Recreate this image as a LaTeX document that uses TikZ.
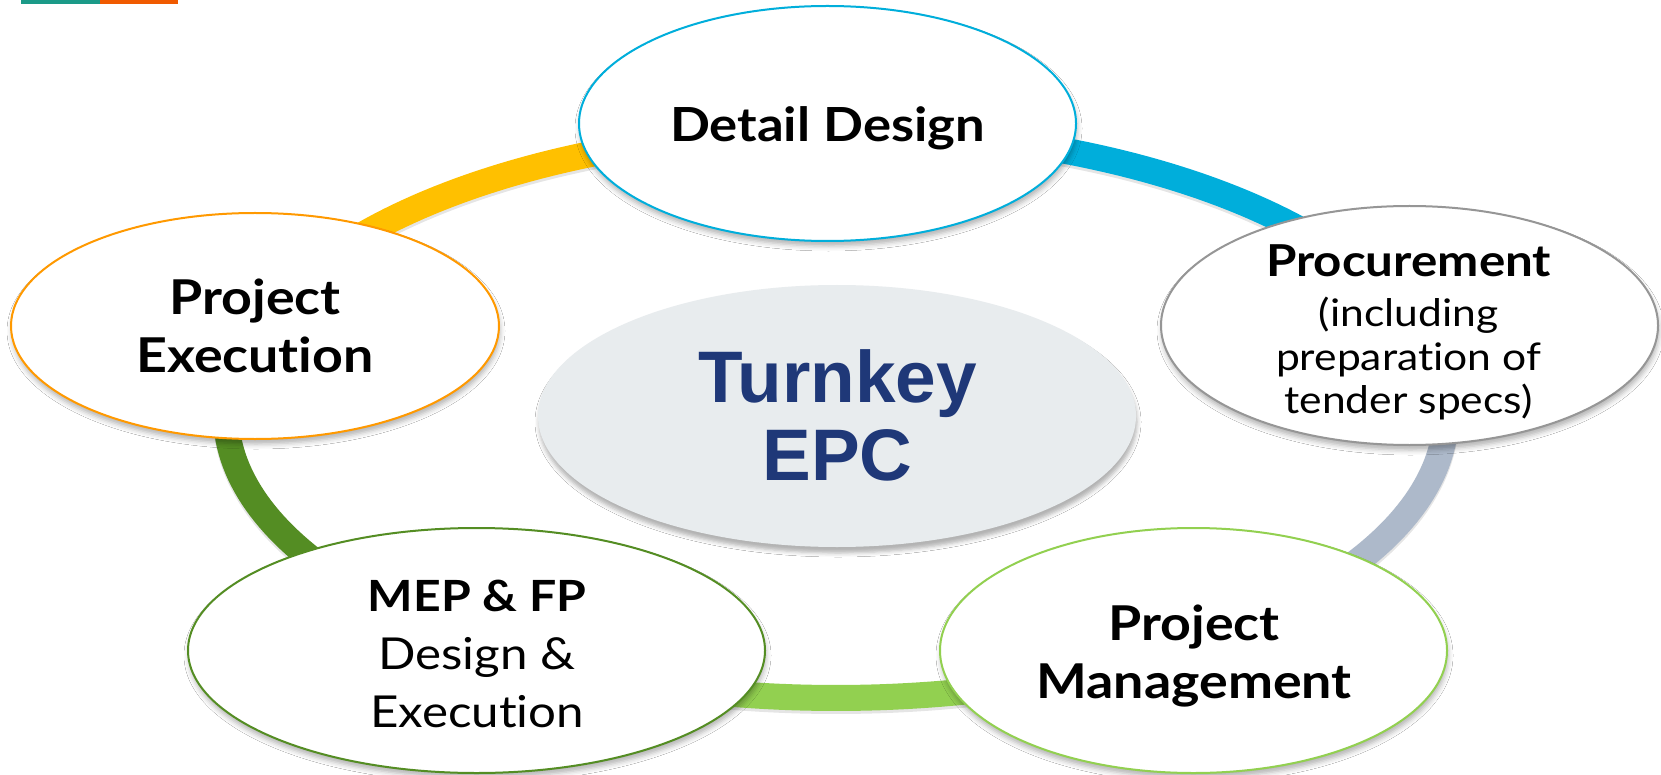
\documentclass[tikz,border=0pt]{standalone}
\usepackage{fontspec}
\setmainfont{Lato}
\newfontfamily\labfont[FakeStretch=1.12,Ligatures=NoCommon]{Lato}
\newfontfamily\arialfont{Liberation Sans}
\usetikzlibrary{shapes.geometric,shadows.blur}
\definecolor{barteal}{RGB}{27,154,136}
\definecolor{barorange}{RGB}{240,90,0}
\definecolor{ringyellow}{RGB}{255,192,0}
\definecolor{ringblue}{RGB}{0,174,219}
\definecolor{ringgray}{RGB}{173,185,202}
\definecolor{ringlgreen}{RGB}{146,208,80}
\definecolor{ringdgreen}{RGB}{84,141,35}
\definecolor{peorange}{RGB}{255,153,0}
\definecolor{procgray}{RGB}{150,150,150}
\definecolor{tkfill}{RGB}{232,236,238}
\definecolor{tknavy}{RGB}{31,56,120}
\tikzset{
  ringseg/.style={line width=26pt, line cap=butt},
  ringshadow/.style={line width=26pt, line cap=butt, black, opacity=0.10, yshift=-3pt},
  bubble/.style={ellipse, fill=white, line width=2pt, inner sep=0pt,
    blur shadow={shadow xshift=1pt, shadow yshift=-5pt, shadow blur radius=5pt, shadow opacity=30}},
  lab/.style={anchor=base, inner sep=0pt, font=\labfont},
}
\newcommand{\ringpath}[2]{plot[domain=#1:#2, samples=60, variable=\t] ({836+610*cos(\t)}, {414-284*sin(\t)})}
\begin{document}
\begin{tikzpicture}[x=1pt,y=-1pt]
\useasboundingbox (0,0) rectangle (1661,775);
\fill[white] (0,0) rectangle (1661,775);
\fill[barteal] (21,0) rectangle (100,4);
\fill[barorange] (100,0) rectangle (178,4);
% ring shadows
\draw[ringshadow] \ringpath{165}{90};
\draw[ringshadow] \ringpath{90}{15};
\draw[ringshadow] \ringpath{15}{-55};
\draw[ringshadow] \ringpath{-55}{-125};
\draw[ringshadow] \ringpath{-125}{-195};
% ring segments
\draw[ringseg, ringyellow] \ringpath{165}{90};
\draw[ringseg, ringblue] \ringpath{90}{15};
\draw[ringseg, ringgray] \ringpath{15}{-55};
\draw[ringseg, ringlgreen] \ringpath{-55}{-125};
\draw[ringseg, ringdgreen] \ringpath{-125}{-195};
% ellipses
\node[ellipse, fill=tkfill, inner sep=0pt, minimum width=598pt, minimum height=262pt,
  blur shadow={shadow xshift=1pt, shadow yshift=-6pt, shadow blur radius=4pt, shadow opacity=30}] (tk) at (837,416) {};
\node[bubble, draw=ringblue, minimum width=497pt, minimum height=235pt] (dd) at (827.5,123.5) {};
\node[bubble, draw=procgray, minimum width=497pt, minimum height=239pt] (proc) at (1409.5,325.5) {};
\node[bubble, draw=peorange, minimum width=488pt, minimum height=226pt] (pe) at (255,326) {};
\node[bubble, draw=ringdgreen, minimum width=577pt, minimum height=245pt] (mep) at (476.5,650.5) {};
\node[bubble, draw=ringlgreen, minimum width=507pt, minimum height=245pt] (pm) at (1193.5,650.5) {};
% texts
\node[lab] (tkt) at (837.5,402) {\arialfont\bfseries\fontsize{73}{78}\selectfont\color{tknavy}%
  \begin{tabular}[t]{@{}c@{}}Turnkey\\EPC\end{tabular}};
\node[lab] (ddt) at (827.5,142) {\fontsize{47}{47}\selectfont\bfseries Detail Design};
\node[lab] (proct) at (1408.5,277) {\fontsize{38}{43}\selectfont
  \begin{tabular}[t]{@{}c@{}}\bfseries\fontsize{44}{43}\selectfont Procurement\\[7pt](including\\preparation of\\tender specs)\end{tabular}};
\node[lab] (pet) at (255,315) {\fontsize{48}{58}\selectfont\bfseries
  \begin{tabular}[t]{@{}c@{}}Project\\Execution\end{tabular}};
\node[lab] (mept) at (477,611) {\fontsize{44}{58}\selectfont
  \begin{tabular}[t]{@{}c@{}}\bfseries\fontsize{43}{58}\selectfont MEP \& FP\\Design \&\\Execution\end{tabular}};
\node[lab] (pmt) at (1194,640) {\fontsize{48}{58}\selectfont\bfseries
  \begin{tabular}[t]{@{}c@{}}Project\\Management\end{tabular}};
\end{tikzpicture}
\end{document}
